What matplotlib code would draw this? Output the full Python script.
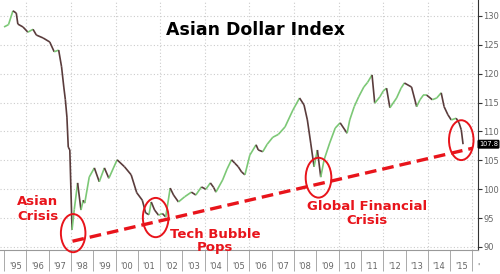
#! /usr/bin/env python

from matplotlib import pyplot as plt
from matplotlib.patches import Ellipse
from matplotlib.collections import LineCollection
from matplotlib.transforms import blended_transform_factory

# index level (decimal year, value)
dates = [1995.00, 1995.20, 1995.40, 1995.55, 1995.62, 1995.85, 1996.07, 1996.30,
         1996.45, 1996.75, 1997.05, 1997.25, 1997.45, 1997.58, 1997.68, 1997.75,
         1997.82, 1997.88, 1997.95, 1998.05, 1998.15, 1998.30, 1998.45, 1998.55,
         1998.62, 1998.82, 1999.05, 1999.27, 1999.50, 1999.70, 2000.07, 2000.40,
         2000.70, 2000.95, 2001.20, 2001.35, 2001.50, 2001.60, 2001.75, 2001.93,
         2002.10, 2002.25, 2002.45, 2002.60, 2002.82, 2003.10, 2003.40, 2003.60,
         2003.85, 2004.05, 2004.25, 2004.40, 2004.50, 2004.80, 2005.00, 2005.20,
         2005.35, 2005.50, 2005.65, 2005.80, 2006.02, 2006.30, 2006.40, 2006.60,
         2006.80, 2007.05, 2007.30, 2007.60, 2007.95, 2008.25, 2008.45, 2008.60,
         2008.75, 2008.90, 2009.05, 2009.20, 2009.35, 2009.60, 2009.85, 2010.07,
         2010.38, 2010.50, 2010.70, 2010.90, 2011.13, 2011.30, 2011.50, 2011.62,
         2011.85, 2012.00, 2012.15, 2012.30, 2012.60, 2012.80, 2012.95, 2013.27,
         2013.50, 2013.65, 2013.80, 2013.95, 2014.20, 2014.40, 2014.60, 2014.73,
         2014.90, 2015.05, 2015.27, 2015.40, 2015.50, 2015.58]
values = [128.1, 128.5, 130.9, 130.5, 128.6, 128.1, 127.2, 127.7,
          126.7, 126.2, 125.5, 123.8, 124.1, 121.2, 117.7, 115.5,
          112.5, 107.3, 106.8, 93.0, 96.5, 101.1, 96.4, 98.1,
          97.6, 102.1, 103.7, 101.3, 103.7, 101.9, 105.1, 103.9,
          102.5, 99.4, 98.1, 95.9, 95.6, 97.8, 96.4, 95.5,
          95.8, 95.2, 100.2, 99.0, 97.8, 98.7, 99.5, 99.0,
          100.4, 100.0, 101.1, 100.3, 99.5, 101.6, 103.5, 105.1,
          104.5, 103.9, 103.0, 102.5, 105.9, 107.7, 106.8, 106.5,
          107.8, 109.0, 109.5, 110.8, 113.7, 115.8, 114.6, 112.0,
          108.0, 103.9, 106.8, 102.1, 105.1, 108.0, 110.6, 111.5,
          109.7, 112.0, 114.3, 116.0, 117.7, 118.5, 119.8, 114.9,
          116.0, 117.0, 117.5, 114.1, 115.8, 117.5, 118.4, 117.7,
          114.3, 115.5, 116.3, 116.3, 115.5, 115.8, 116.7, 114.3,
          112.9, 112.0, 112.3, 111.5, 110.3, 107.8]
last_value = 107.8

years = list(range(1995, 2017))
year_labels = ["'%02d" % (y % 100) for y in range(1995, 2016)] + ["'"]
yticks = [90, 95, 100, 105, 110, 115, 120, 125, 130]

# (x, y, width, height) of the red circles, in data units
circles = [(1998.1, 92.4, 1.1, 6.6), (2001.8, 95.1, 1.15, 6.8),
           (2009.1, 102.0, 1.15, 6.9), (2015.5, 108.5, 1.1, 6.9)]
trend = [(1998.07, 2016.0), (91.0, 107.1)]

UP = '#7cc876'
DOWN = '#5a3c3c'
RED = '#e8141b'


def draw_series(ax):
  segs, cols = [], []
  for i in range(1, len(dates)):
    segs.append([(dates[i-1], values[i-1]), (dates[i], values[i])])
    cols.append(UP if values[i] >= values[i-1] else DOWN)
  ax.add_collection(LineCollection(segs, colors=cols, linewidths=1.2,
                                   capstyle='butt', zorder=3))


def style_axes(ax):
  ax.set_xlim(1994.82, 2016.07)
  ax.set_ylim(89.48, 132.77)
  for s in ('left', 'top'):
    ax.spines[s].set_visible(False)
  ax.spines['right'].set_color('#333333')
  ax.spines['bottom'].set_color('#999999')
  ax.yaxis.tick_right()
  ax.set_yticks(yticks)
  ax.tick_params(axis='y', labelsize=6, labelcolor='#666666', length=3,
                 width=0.8, color='#333333', pad=1)
  ax.set_xticks(years)
  ax.set_xticklabels([])
  ax.tick_params(axis='x', which='major', length=15, width=0.7,
                 color='#aaaaaa')
  ax.set_xticks([y + 0.5 for y in years[:-1]] + [2016.25], minor=True)
  ax.set_xticklabels(year_labels, minor=True)
  ax.tick_params(axis='x', which='minor', length=0, labelsize=6,
                 labelcolor='#666666', pad=9)
  for y in yticks:
    ax.axhline(y, color='#cccccc', lw=0.8, ls=(0, (1, 2)), zorder=1)
  for y in years[1::2]:
    ax.axvline(y, color='#cccccc', lw=0.8, ls=(0, (1, 2)), zorder=1)


def annotate(fig, ax):
  for x, y, w, h in circles:
    ax.add_patch(Ellipse((x, y), w, h, fill=False, ec=RED, lw=1.4,
                         zorder=4, clip_on=False))
  ax.plot(trend[0], trend[1], color=RED, lw=2.4, ls=(0, (3.5, 1.8)),
          zorder=5, solid_capstyle='butt')
  font = dict(color=RED, fontsize=9.5, fontweight='bold', zorder=6)
  ax.text(1995.58, 96.6, 'Asian\nCrisis', ha='left', va='center', **font)
  ax.text(2004.47, 91.0, 'Tech Bubble\nPops', ha='center', va='center',
          linespacing=1.05, **font)
  ax.text(2011.27, 95.8, 'Global Financial\nCrisis', ha='center',
          va='center', linespacing=1.1, **font)
  # last value tag, pinned to the right edge of the figure
  tr = blended_transform_factory(fig.transFigure, ax.transData)
  fig.text(0.996, last_value, '%.1f' % last_value, transform=tr,
           ha='right', va='center', fontsize=4.8, color='white',
           bbox=dict(boxstyle='round,pad=0.12', fc='black', ec='black'))


def main():
  fig = plt.figure(figsize=(5, 2.74), dpi=100)
  ax = fig.add_axes([0.0, 0.0876, 0.956, 0.9124])
  style_axes(ax)
  draw_series(ax)
  annotate(fig, ax)
  fig.text(0.512, 0.872, 'Asian Dollar Index', ha='center', va='baseline',
           fontsize=12.5, fontweight='bold', color='black')
  fig.savefig('out.png', dpi=100)


if __name__ == "__main__":
  main()
